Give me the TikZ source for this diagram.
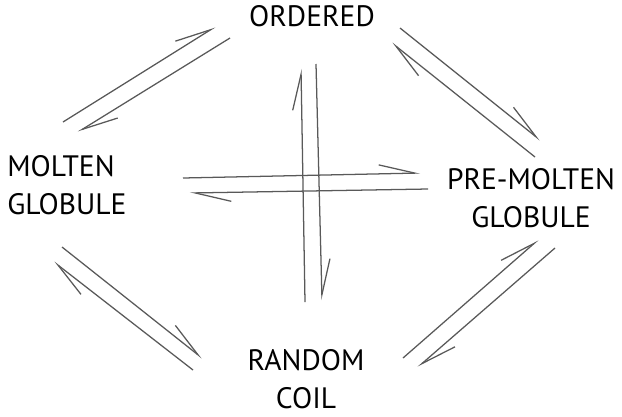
\documentclass[tikz,border=0pt]{standalone}
\usepackage{fontspec}
\setmainfont{PT Sans}
\usetikzlibrary{arrows.meta}

\begin{document}
\begin{tikzpicture}[x=0.025cm,y=-0.025cm,
    state/.style={inner sep=0pt,font=\fontsize{21}{27}\selectfont},
    harp/.style={draw=black!65,line width=0.9pt,
      -{Straight Barb[left,length=0.9cm,width=0.45cm]}}]
  \useasboundingbox (0,0) rectangle (622,416);
  % --- states ---
  \node[state] (ord) at (312,16.5) {ORDERED};
  \node[state,anchor=west,align=left] (mg) at (7,185) {MOLTEN\\GLOBULE};
  \node[state,align=center] (pmg) at (531,198) {PRE-MOLTEN\\GLOBULE};
  \node[state,align=center] (rc) at (306,379) {RANDOM\\COIL};
  % --- end points of the arrow pairs ---
  % molten globule <-> ordered
  \coordinate (mgA) at (63,122);   \coordinate (ordA) at (215,27);
  \coordinate (ordB) at (230,38);  \coordinate (mgB) at (78,132);
  % ordered <-> pre-molten globule
  \coordinate (ordC) at (400,28);  \coordinate (pmgC) at (540,140);
  \coordinate (pmgD) at (535,157); \coordinate (ordD) at (392,43);
  % molten globule <-> pre-molten globule
  \coordinate (mgE) at (183,178);  \coordinate (pmgE) at (420,173);
  \coordinate (pmgF) at (428,189); \coordinate (mgF) at (190,193);
  % random coil <-> ordered
  \coordinate (rcG) at (305,302);  \coordinate (ordG) at (301,69);
  \coordinate (ordH) at (316,64);  \coordinate (rcH) at (322,300);
  % molten globule <-> random coil
  \coordinate (mgI) at (62,247);   \coordinate (rcI) at (202,358);
  \coordinate (rcJ) at (193,370);  \coordinate (mgJ) at (54,262);
  % random coil <-> pre-molten globule
  \coordinate (rcK) at (403,358);  \coordinate (pmgK) at (538,240);
  \coordinate (pmgL) at (555,248); \coordinate (rcL) at (418,367);
  % --- half arrows ---
  \draw[harp] (mgA) -- (ordA);
  \draw[harp] (ordB) -- (mgB);
  \draw[harp] (ordC) -- (pmgC);
  \draw[harp] (pmgD) -- (ordD);
  \draw[harp] (mgE) -- (pmgE);
  \draw[harp] (pmgF) -- (mgF);
  \draw[harp] (rcG) -- (ordG);
  \draw[harp] (ordH) -- (rcH);
  \draw[harp] (mgI) -- (rcI);
  \draw[harp] (rcJ) -- (mgJ);
  \draw[harp] (rcK) -- (pmgK);
  \draw[harp] (pmgL) -- (rcL);
\end{tikzpicture}
\end{document}
